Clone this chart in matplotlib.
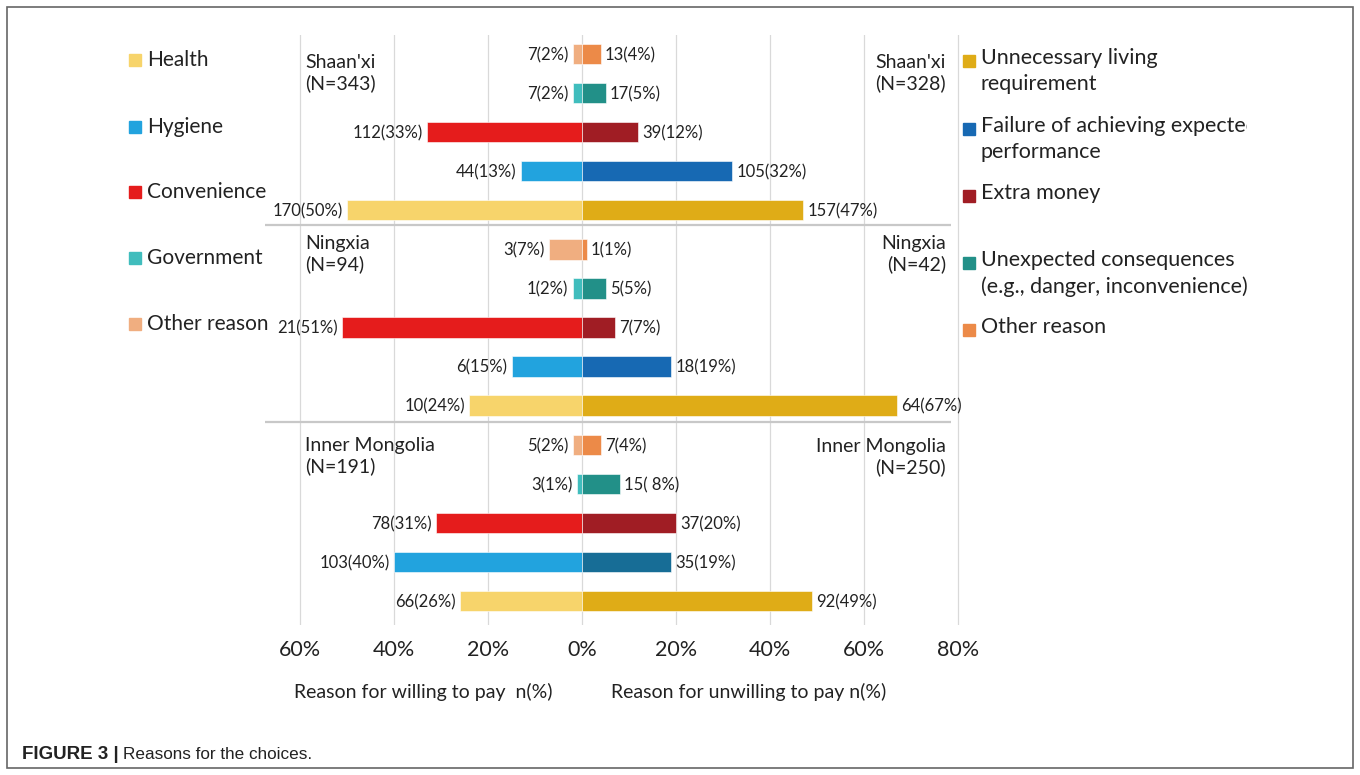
import matplotlib
matplotlib.use('Agg')
import matplotlib.pyplot as plt
from matplotlib.patches import Rectangle

plt.rcParams['font.family'] = ['Lato', 'DejaVu Sans']

regions = ["Shaan'xi", "Ningxia", "Inner Mongolia"]
n_willing = [343, 94, 191]
n_unwilling = [328, 42, 250]

willing_reasons = ['Health', 'Hygiene', 'Convenience', 'Government', 'Other reason']
unwilling_reasons = ['Unnecessary living\nrequirement',
                     'Failure of achieving expected\nperformance',
                     'Extra money',
                     'Unexpected consequences\n(e.g., danger, inconvenience)',
                     'Other reason']

# per region, in reason order (Health ... Other reason)
willing_n = [[170, 44, 112, 7, 7], [10, 6, 21, 1, 3], [66, 103, 78, 3, 5]]
willing_pct = [[50, 13, 33, 2, 2], [24, 15, 51, 2, 7], [26, 40, 31, 1, 2]]
unwilling_n = [[157, 105, 39, 17, 13], [64, 18, 7, 5, 1], [92, 35, 37, 15, 7]]
unwilling_pct = [[47, 32, 12, 5, 4], [67, 19, 7, 5, 1], [49, 19, 20, 8, 4]]

willing_colors = ['#f7d46b', '#22a3de', '#e51c1c', '#40bdbd', '#f0ae80']
unwilling_colors = ['#dfac17', '#1769b3', '#a01d24', '#229088', '#ec8a48']
failure_colors = ['#1769b3', '#1769b3', '#176d96']

tick_vals = [-60, -40, -20, 0, 20, 40, 60, 80]
tick_labels = ['60%', '40%', '20%', '0%', '20%', '40%', '60%', '80%']

W, H = 1360, 775
fig = plt.figure(figsize=(W / 100, H / 100), dpi=100)


def fx(x):
    return x / W


def fy(y):
    return 1 - y / H


# main axes, pixel box 265..965 x 35..625
ax = fig.add_axes([fx(265), fy(625), (965 - 265) / W, (625 - 35) / H])
ppx = 20 / 94.0
ax.set_xlim((265 - 582) * ppx, (965 - 582) * ppx)
ax.set_ylim(14 + 24 / 39.07, -19 / 39.07)

for v in tick_vals:
    ax.axvline(v, color='#d9d9d9', lw=0.9, zorder=0)

bar_h = 0.52
for r in range(3):
    for i in range(5):
        y = r * 5 + (4 - i)
        ax.barh(y, -willing_pct[r][i], height=bar_h, color=willing_colors[i],
                edgecolor='white', linewidth=0.4, zorder=2)
        c = failure_colors[r] if i == 1 else unwilling_colors[i]
        ax.barh(y, unwilling_pct[r][i], height=bar_h, color=c,
                edgecolor='white', linewidth=0.4, zorder=2)
        ax.text(-willing_pct[r][i] - 0.9, y + 0.03, f'{willing_n[r][i]}({willing_pct[r][i]}%)',
                ha='right', va='center', fontsize=12, color='#222222')
        lab = f'{unwilling_n[r][i]}({unwilling_pct[r][i]}%)'
        if r == 2 and i == 3:
            lab = f'{unwilling_n[r][i]}( {unwilling_pct[r][i]}%)'
        ax.text(unwilling_pct[r][i] + 0.9, y + 0.03, lab,
                ha='left', va='center', fontsize=12, color='#222222')

# separators between regions
for ys in [4.38, 9.43]:
    ax.plot([-67.4, 78.5], [ys, ys], color='#c8c8c8', lw=1.6, zorder=1,
            solid_capstyle='butt')

ax.set_xticks(tick_vals)
ax.set_xticklabels(tick_labels, fontsize=15.5, color='#222222')
ax.tick_params(axis='x', length=0, pad=11)
ax.set_yticks([])
for s in ax.spines.values():
    s.set_visible(False)

# region labels
left_pos = [73, 254, 456]
right_pos = [73, 254, 457]
for r in range(3):
    fig.text(fx(305), fy(left_pos[r]), f'{regions[r]}\n(N={n_willing[r]})',
             ha='left', va='center', fontsize=14, linespacing=1.25, color='#222222')
    fig.text(fx(946), fy(right_pos[r]), f'{regions[r]}\n(N={n_unwilling[r]})',
             ha='right', va='center', fontsize=14, linespacing=1.25,
             multialignment='right', color='#222222')

# axis titles
fig.text(fx(423), fy(692), 'Reason for willing to pay  n(%)', ha='center', va='center',
         fontsize=14, color='#222222')
fig.text(fx(749), fy(692), 'Reason for unwilling to pay n(%)', ha='center', va='center',
         fontsize=14, color='#222222')

# left legend
left_leg_y = [60, 127, 192, 258, 324]
for i, name in enumerate(willing_reasons):
    fig.patches.append(Rectangle((fx(129), fy(left_leg_y[i] + 6)), 12 / W, 12 / H,
                                 transform=fig.transFigure, color=willing_colors[i]))
    fig.text(fx(147), fy(left_leg_y[i]), name, ha='left', va='center',
             fontsize=15, color='#222222')

# right legend (text clipped at the chart area edge)
lax = fig.add_axes([fx(955), fy(400), (1247 - 955) / W, (400 - 30) / H])
lax.set_xlim(955, 1247)
lax.set_ylim(400, 30)
lax.axis('off')
right_leg_y = [61, 129, 196, 263, 330]
for i, name in enumerate(unwilling_reasons):
    lax.add_patch(Rectangle((963, right_leg_y[i] - 6), 12, 12, color=unwilling_colors[i]))
    lax.text(981, right_leg_y[i] - 13, name, ha='left', va='top', fontsize=15.5,
             linespacing=1.4, color='#222222', clip_on=True)

# frame and caption
fig.patches.append(Rectangle((fx(7), fy(768)), (1353 - 7) / W, (768 - 7) / H,
                             transform=fig.transFigure, fill=False,
                             edgecolor='#666666', lw=1.2))
cap_font = ['Liberation Sans', 'DejaVu Sans']
t1 = fig.text(fx(22), fy(759), 'FIGURE 3 |', ha='left', va='baseline', fontsize=13.5,
              fontweight='bold', family=cap_font, color='#222222')
fig.canvas.draw()
x_end = t1.get_window_extent().x1
fig.text((x_end + 4) / W, fy(759), 'Reasons for the choices.', ha='left', va='baseline',
         fontsize=12.3, family=cap_font, color='#222222')

fig.savefig('out.png', dpi=100)
